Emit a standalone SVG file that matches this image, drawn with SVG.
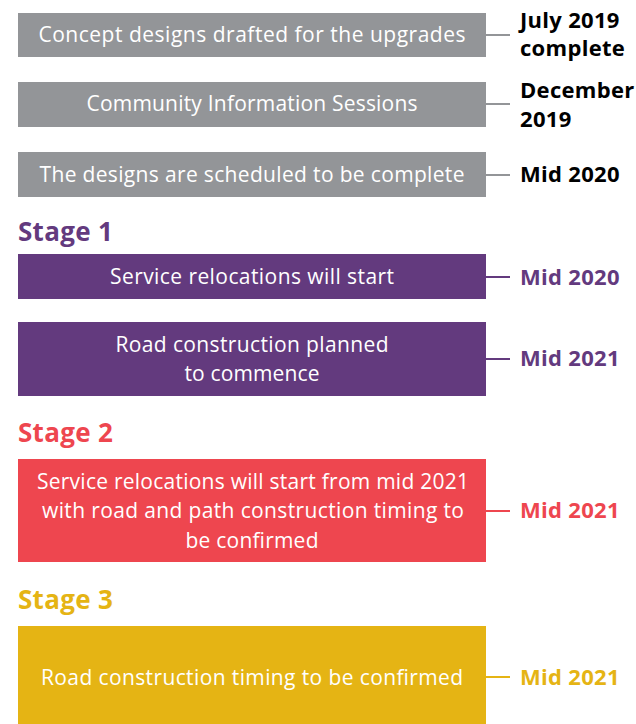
<svg xmlns="http://www.w3.org/2000/svg" width="636" height="724" viewBox="0 0 636 724">
  <style>
    .box-text { font-family: "Open Sans", "Liberation Sans", sans-serif; font-size: 21px; fill: #ffffff; text-anchor: middle; }
    .date { font-family: "Open Sans", "Liberation Sans", sans-serif; font-size: 22px; font-weight: 700; letter-spacing: 0.3px; }
    .stage { font-family: "Open Sans", "Liberation Sans", sans-serif; font-size: 26px; font-weight: 700; letter-spacing: 0.3px; }
    .grey { fill: #939598; }
    .purple { fill: #633a7e; }
    .red { fill: #ee464f; }
    .yellow { fill: #e5b414; }
    .link { stroke-width: 2; fill: none; }
  </style>
  <rect width="636" height="724" fill="#ffffff"/>

  <!-- connectors from each bar to its date -->
  <g id="connectors">
    <line class="link" x1="486" y1="35" x2="510" y2="35" stroke="#939598"/>
    <line class="link" x1="486" y1="104" x2="510" y2="104" stroke="#939598"/>
    <line class="link" x1="486" y1="175" x2="510" y2="175" stroke="#939598"/>
    <line class="link" x1="486" y1="277" x2="510" y2="277" stroke="#633a7e"/>
    <line class="link" x1="486" y1="359" x2="510" y2="359" stroke="#633a7e"/>
    <line class="link" x1="486" y1="511" x2="510" y2="511" stroke="#ee464f"/>
    <line class="link" x1="486" y1="677" x2="510" y2="677" stroke="#e5b414"/>
  </g>

  <g id="concept">
    <rect class="grey" x="18" y="13" width="468" height="44"/>
    <text class="box-text" x="252" y="42" textLength="427" lengthAdjust="spacing">Concept designs drafted for the upgrades</text>
    <text class="date" x="520" y="28" fill="#000000">July 2019</text>
    <text class="date" x="520" y="56" fill="#000000">complete</text>
  </g>

  <g id="sessions">
    <rect class="grey" x="18" y="82" width="468" height="45"/>
    <text class="box-text" x="252" y="111" textLength="331" lengthAdjust="spacing">Community Information Sessions</text>
    <text class="date" x="520" y="98" fill="#000000">December</text>
    <text class="date" x="520" y="127" fill="#000000">2019</text>
  </g>

  <g id="designs-complete">
    <rect class="grey" x="18" y="152" width="468" height="45"/>
    <text class="box-text" x="252" y="182" textLength="425" lengthAdjust="spacing">The designs are scheduled to be complete</text>
    <text class="date" x="520" y="182" fill="#000000">Mid 2020</text>
  </g>

  <text class="stage purple" x="18" y="241">Stage 1</text>

  <g id="stage1-relocations">
    <rect class="purple" x="18" y="254" width="468" height="45"/>
    <text class="box-text" x="252" y="284" textLength="284" lengthAdjust="spacing">Service relocations will start</text>
    <text class="date purple" x="520" y="285">Mid 2020</text>
  </g>

  <g id="stage1-road">
    <rect class="purple" x="18" y="322" width="468" height="74"/>
    <text class="box-text" x="252" y="352" textLength="273" lengthAdjust="spacing">Road construction planned</text>
    <text class="box-text" x="252" y="381" textLength="135" lengthAdjust="spacing">to commence</text>
    <text class="date purple" x="520" y="366">Mid 2021</text>
  </g>

  <text class="stage red" x="18" y="442">Stage 2</text>

  <g id="stage2">
    <rect class="red" x="18" y="459" width="468" height="103"/>
    <text class="box-text" x="253" y="489" textLength="432" lengthAdjust="spacing">Service relocations will start from mid 2021</text>
    <text class="box-text" x="253" y="518" textLength="422" lengthAdjust="spacing">with road and path construction timing to</text>
    <text class="box-text" x="252" y="548" textLength="133" lengthAdjust="spacing">be confirmed</text>
    <text class="date red" x="520" y="518">Mid 2021</text>
  </g>

  <text class="stage yellow" x="18" y="609">Stage 3</text>

  <g id="stage3">
    <rect class="yellow" x="18" y="626" width="468" height="98"/>
    <text class="box-text" x="252" y="685" textLength="422" lengthAdjust="spacing">Road construction timing to be confirmed</text>
    <text class="date yellow" x="520" y="685">Mid 2021</text>
  </g>
</svg>
